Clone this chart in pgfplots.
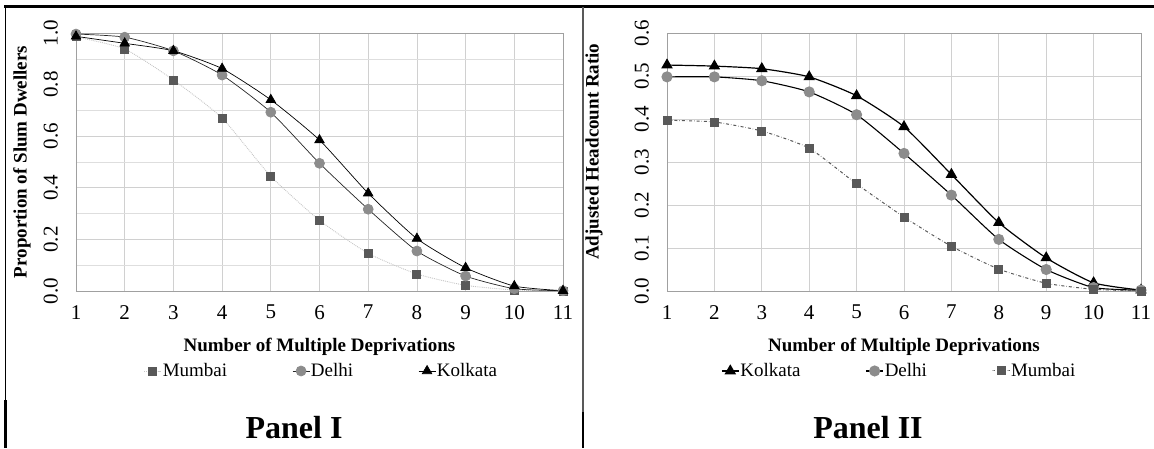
\documentclass[border=0pt]{standalone}
\usepackage{fontspec}
\setmainfont{Liberation Serif}
\usepackage{pgfplots}
\pgfplotsset{compat=1.18}
\definecolor{mumbaiC}{HTML}{595959}
\definecolor{delhiC}{HTML}{8C8C8C}
\definecolor{gridC}{HTML}{D0D0D0}
\definecolor{frameC}{HTML}{A0A0A0}
\pgfplotsset{
  panel/.style={
    scale only axis,
    anchor=south west,
    height=258pt,
    xmin=1, xmax=11, ymin=0,
    xtick={1,...,11},
    major tick length=0pt, minor tick length=0pt,
    grid=both,
    major grid style={draw=gridC, line width=0.7pt},
    minor grid style={draw=gridC!70, line width=0.6pt},
    axis line style={draw=frameC, line width=0.9pt},
    tick label style={font=\fontsize{21}{24}\selectfont},
    /pgf/number format/assume math mode=true,
    yticklabel style={rotate=90, anchor=south, inner sep=0pt, /pgf/number format/fixed, /pgf/number format/precision=1, /pgf/number format/fixed zerofill},
    yticklabel shift=18pt,
    xticklabel style={inner sep=0pt, anchor=north},
    xticklabel shift=14pt,
    xlabel={Number of Multiple Deprivations},
    label style={font=\bfseries\fontsize{19}{22}\selectfont},
    xlabel style={at={(axis description cs:0.5,-0.215)}, anchor=center},
    legend style={draw=none, fill=none, font=\fontsize{19}{22}\selectfont, legend columns=3,
      /tikz/every even column/.append style={column sep=64pt},
      nodes={inner sep=1pt}},
    legend cell align=left,
    every axis plot/.append style={smooth, tension=0.35},
  }
}
\begin{document}
\begin{tikzpicture}
\path[use as bounding box] (0pt,0pt) rectangle (1154pt,-448pt);
% frame lines
\draw[black, line width=2.2pt] (4pt,-6.5pt) -- (1154pt,-6.5pt);
\draw[black, line width=1pt] (5.5pt,-6.5pt) -- (5.5pt,-400pt);
\draw[black, line width=2.2pt] (5.5pt,-400pt) -- (5.5pt,-448pt);
\draw[gray!70!black, line width=2pt] (583pt,-6.5pt) -- (583pt,-412pt);
\draw[black, line width=2.2pt] (583pt,-412pt) -- (583pt,-448pt);

% Panel I
\begin{axis}[panel, at={(76pt,-291pt)}, width=487pt, ymax=1,
  ytick={0,0.2,...,1.01}, minor y tick num=1,
  ylabel={Proportion of Slum Dwellers},
  ylabel style={at={(axis description cs:-0.111,0.5)}, anchor=center, rotate=0},
  legend style={at={(axis description cs:0.503,-0.31)}, anchor=center}]
\addplot[color=gray!45, densely dotted, line width=0.9pt, mark=square*, mark size=4pt,
  mark options={solid, fill=mumbaiC, draw=mumbaiC}]
  coordinates {(1,0.985)(2,0.938)(3,0.818)(4,0.670)(5,0.445)(6,0.274)(7,0.146)(8,0.066)(9,0.022)(10,0.004)(11,0.0)};
\addlegendentry{Mumbai}
\addplot[color=black!85, line width=0.7pt, mark=*, mark size=5pt,
  mark options={fill=delhiC, draw=delhiC}]
  coordinates {(1,0.996)(2,0.984)(3,0.931)(4,0.837)(5,0.693)(6,0.495)(7,0.317)(8,0.155)(9,0.058)(10,0.009)(11,0.001)};
\addlegendentry{Delhi}
\addplot[color=black, line width=0.7pt, mark=triangle*, mark size=5.5pt,
  mark options={fill=black}]
  coordinates {(1,0.987)(2,0.960)(3,0.931)(4,0.862)(5,0.741)(6,0.585)(7,0.379)(8,0.203)(9,0.090)(10,0.019)(11,0.001)};
\addlegendentry{Kolkata}
\end{axis}
\node[font=\bfseries\fontsize{32}{36}\selectfont] at (294pt,-428pt) {Panel I};

% Panel II
\begin{axis}[panel, at={(667pt,-291pt)}, width=474pt, ymax=0.6,
  ytick={0,0.1,...,0.61},
  ylabel={Adjusted Headcount Ratio},
  ylabel style={at={(axis description cs:-0.154,0.54)}, anchor=center, rotate=0},
  legend style={at={(axis description cs:0.489,-0.31)}, anchor=center}]
\addplot[color=black, line width=1.2pt, mark=triangle*, mark size=5.5pt,
  mark options={fill=black}]
  coordinates {(1,0.5255)(2,0.523)(3,0.517)(4,0.498)(5,0.454)(6,0.382)(7,0.271)(8,0.159)(9,0.077)(10,0.019)(11,0.002)};
\addlegendentry{Kolkata}
\addplot[color=black, line width=1.1pt, mark=*, mark size=5pt,
  mark options={fill=delhiC, draw=delhiC}]
  coordinates {(1,0.498)(2,0.498)(3,0.489)(4,0.463)(5,0.410)(6,0.320)(7,0.223)(8,0.120)(9,0.050)(10,0.008)(11,0.002)};
\addlegendentry{Delhi}
\addplot[color=mumbaiC, dash dot, line width=1pt, mark=square*, mark size=4pt,
  mark options={solid, fill=mumbaiC, draw=mumbaiC}]
  coordinates {(1,0.397)(2,0.393)(3,0.372)(4,0.332)(5,0.249)(6,0.172)(7,0.104)(8,0.051)(9,0.018)(10,0.004)(11,0.0)};
\addlegendentry{Mumbai}
\end{axis}
\node[font=\bfseries\fontsize{32}{36}\selectfont] at (868pt,-428pt) {Panel II};
\end{tikzpicture}
\end{document}
